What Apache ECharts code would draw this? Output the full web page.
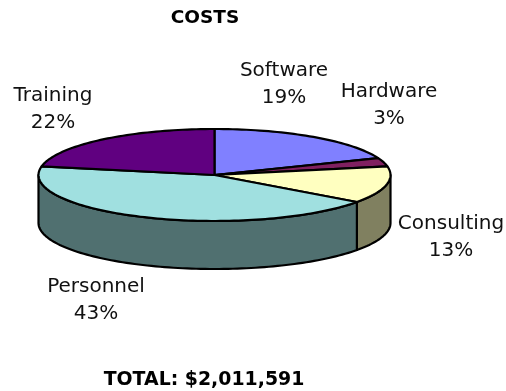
<!DOCTYPE html>
<html>
<head>
<meta charset="utf-8">
<style>html,body{margin:0;padding:0;background:#fff}#chart{width:506px;height:391px}</style>
<script src="https://cdn.jsdelivr.net/npm/echarts@6/dist/echarts.min.js"></script>
</head>
<body>
<div id="chart"></div>
<script>
// Cost breakdown, in percent of the total
var categories = ['Software', 'Hardware', 'Consulting', 'Personnel', 'Training'];
var shares = [19, 3, 13, 43, 22];
var topColors = ['#8080FF', '#802060', '#FFFFC0', '#A0E0E0', '#600080'];
var wallColors = ['#404080', '#401030', '#808060', '#507070', '#300040'];
var chartTitle = 'COSTS';
var totalText = 'TOTAL: $2,011,591';

// Tilted disc geometry, in pixels
var disc = { cx: 214.5, cy: 175, rx: 176, ry: 46, depth: 48 };
var labelCentres = [[284, 84], [389, 105], [451, 237], [96, 300], [53, 109]];
var FONT = '"DejaVu Sans", Verdana, sans-serif';

var grandTotal = shares.reduce(function (a, b) { return a + b; }, 0);

function rimPoint(deg, drop) {
  var r = deg * Math.PI / 180;
  return [disc.cx + disc.rx * Math.sin(r), disc.cy - disc.ry * Math.cos(r) + (drop || 0)];
}

function arc(from, to, drop) {
  var pts = [], n = Math.max(2, Math.ceil(Math.abs(to - from) / 1.5));
  for (var i = 0; i <= n; i++) pts.push(rimPoint(from + (to - from) * i / n, drop));
  return pts;
}

function renderSlice(params, api) {
  var i = params.dataIndex;
  var before = 0;
  for (var k = 0; k < i; k++) before += shares[k];
  var start = before / grandTotal * 360;
  var end = start + api.value(1) / grandTotal * 360;
  var children = [];

  // Only the part of the rim facing the viewer shows a wall
  var wallFrom = Math.max(start, 90), wallTo = Math.min(end, 270);
  if (wallTo > wallFrom) {
    children.push({
      type: 'polygon',
      shape: { points: arc(wallFrom, wallTo, 0).concat(arc(wallTo, wallFrom, disc.depth)) },
      style: { fill: wallColors[i], stroke: '#000', lineWidth: 2.2, lineJoin: 'round' }
    });
  }
  children.push({
    type: 'polygon',
    shape: { points: [[disc.cx, disc.cy]].concat(arc(start, end, 0)) },
    style: { fill: topColors[i], stroke: '#000', lineWidth: 2.2, lineJoin: 'round' }
  });
  children.push({
    type: 'text',
    z2: 10,
    style: {
      text: categories[i] + '\n' + api.value(1) + '%',
      x: labelCentres[i][0], y: labelCentres[i][1],
      align: 'center', verticalAlign: 'middle',
      fontFamily: FONT, fontSize: 20, lineHeight: 27, fill: '#111'
    }
  });
  return { type: 'group', children: children };
}

var chart = echarts.init(document.getElementById('chart'), null, { renderer: 'canvas' });
chart.setOption({
  animation: false,
  backgroundColor: '#fff',
  title: [
    { text: chartTitle, left: 200, top: 4, textAlign: 'center',
      textStyle: { fontFamily: FONT, fontSize: 18.5, fontWeight: 'bold', color: '#000' } },
    { text: totalText, left: 199, top: 366, textAlign: 'center',
      textStyle: { fontFamily: FONT, fontSize: 18.9, fontWeight: 'bold', color: '#000' } }
  ],
  series: [{
    type: 'custom',
    coordinateSystem: 'none',
    renderItem: renderSlice,
    data: categories.map(function (c, i) { return [c, shares[i]]; })
  }]
});
</script>
</body>
</html>
